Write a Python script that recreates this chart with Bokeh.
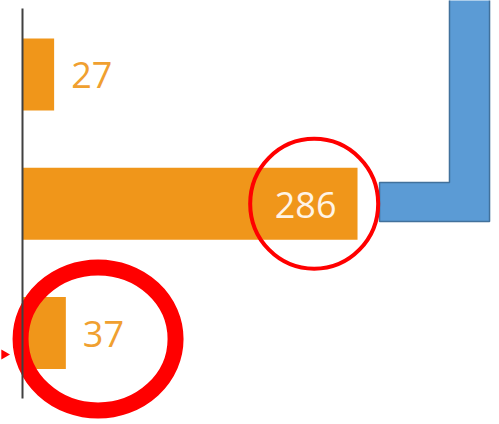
import math
from bokeh.plotting import figure
from bokeh.models import Range1d, LinearAxis, ColumnDataSource, FixedTicker
from bokeh.core.properties import value
from bokeh.embed import file_html
from bokeh.resources import INLINE

# ---- data ----
categories = ["Row 1", "Row 2", "Row 3"]
values = [27, 286, 37]

# ---- annotation geometry (data units) ----
ring_thin = dict(x=249.0, y=1.0, w=128, h=130, lw=4)
ring_thick = dict(x=64.5, y=2.046, w=155, h=143, lw=16)
connector_x = [364.5, 398.7, 398.7, 304.8, 304.8, 364.5]
connector_y = [-0.70, -0.70, 1.137, 1.137, 0.8356, 0.8356]
arrow_tip = dict(x=-15.6, y=2.166)

BAR = "#F0961A"
LABEL = "#F0A030"
FONT = "Open Sans"

pos = list(range(len(categories)))
inside = [v > 150 for v in values]
src = ColumnDataSource(dict(y=pos, v=values))

p = figure(width=499, height=424, output_backend="svg", toolbar_location=None,
           x_range=Range1d(-18.78, 407.2), y_range=Range1d(2.708, -0.5725),
           x_axis_location=None, y_axis_location=None,
           min_border=0, outline_line_color=None)
p.grid.visible = False

p.hbar(y="y", right="v", left=0, height=0.557, source=src,
       fill_color=BAR, line_color=None)

for side_align, sub in (("right", True), ("left", False)):
    idx = [i for i, ins in enumerate(inside) if ins == sub]
    s = ColumnDataSource(dict(
        x=[values[i] for i in idx], y=[pos[i] for i in idx],
        t=[str(values[i]) for i in idx],
        c=["#FFF4E6" if sub else LABEL for _ in idx]))
    p.text(x="x", y="y", text="t", source=s, text_color="c",
           text_align=side_align, text_baseline="middle",
           x_offset=-21 if sub else 17, y_offset=1,
           text_font=value(FONT), text_font_size="36px")

ax = LinearAxis(fixed_location=0, bounds=(-0.5106, 2.507),
                ticker=FixedTicker(ticks=[]),
                major_tick_line_color=None, minor_tick_line_color=None,
                axis_line_color="#404040", axis_line_width=2)
p.add_layout(ax, "left")

p.patch(connector_x, connector_y, fill_color="#5B9BD5", line_color="#41719C", line_width=1.5)

p.scatter(x=[arrow_tip["x"]], y=[arrow_tip["y"]], marker="triangle", size=10,
          angle=-math.pi / 2, fill_color="#FF0000", line_color=None)

for r in (ring_thin, ring_thick):
    p.ellipse(x=[r["x"]], y=[r["y"]], width=[r["w"]], height=[r["h"]],
              width_units="screen", height_units="screen",
              fill_color=None, line_color="#FF0000", line_width=r["lw"])

open("out.html", "w").write(file_html(p, INLINE))
